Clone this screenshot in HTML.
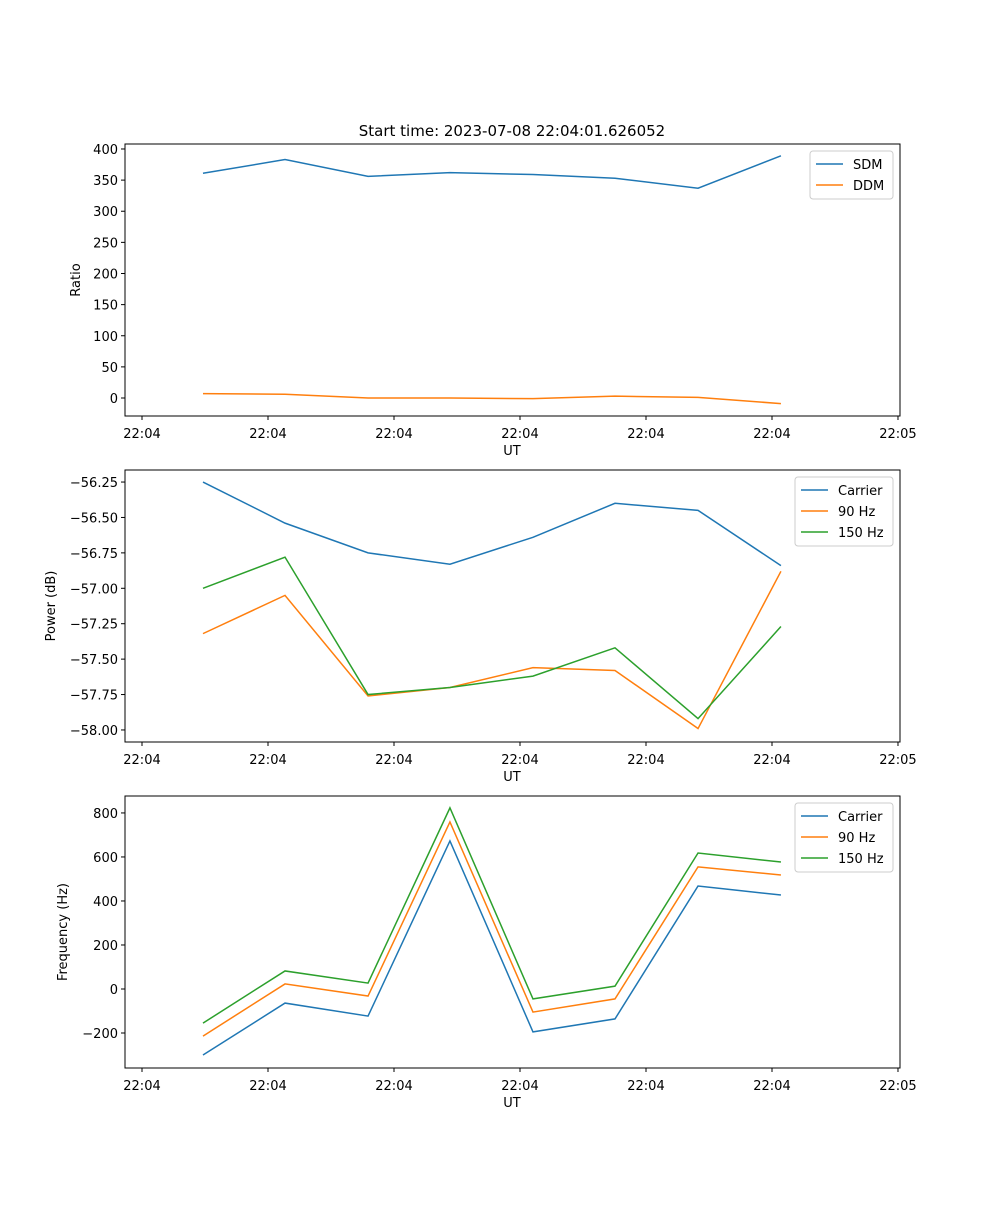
<!DOCTYPE html>
<html><head><meta charset="utf-8"><style>
html,body{margin:0;padding:0;background:#fff;}
svg text{font-family:"DejaVu Sans","Liberation Sans",sans-serif;fill:#000;}
</style></head><body>
<svg id="fig" width="1000" height="1200" xmlns="http://www.w3.org/2000/svg">
<rect width="1000" height="1200" fill="#fff"/>
<text x="512" y="136" font-size="15" text-anchor="middle">Start time: 2023-07-08 22:04:01.626052</text>
</svg>
<script>
const times = [0.484, 1.135, 1.794, 2.444, 3.103, 3.754, 4.413, 5.071];
const xTickVals = [0,1,2,3,4,5,6];
const xTickLabels = ["22:04","22:04","22:04","22:04","22:04","22:04","22:05"];
const sdm = [361,383,356,362,359,353,337,389];
const ddm = [7,6,0,0,-1,3,1,-9];
const pCarrier = [-56.25,-56.54,-56.75,-56.83,-56.64,-56.40,-56.45,-56.84];
const p90 = [-57.32,-57.05,-57.76,-57.70,-57.56,-57.58,-57.99,-56.88];
const p150 = [-57.00,-56.78,-57.75,-57.70,-57.62,-57.42,-57.92,-57.27];
const fCarrier = [-300,-64,-123,673,-195,-136,468,427];
const f90 = [-214,23,-32,759,-105,-45,555,518];
const f150 = [-155,82,27,823,-45,13,618,577];
const ratioTicks = [0,50,100,150,200,250,300,350,400];
const powerTicks = [-58.00,-57.75,-57.50,-57.25,-57.00,-56.75,-56.50,-56.25];
const freqTicks = [-200,0,200,400,600,800];

const NS="http://www.w3.org/2000/svg";
const svg=document.getElementById('fig');
const C={blue:"#1f77b4",orange:"#ff7f0e",green:"#2ca02c"};
function mk(tag,attrs,parent){const e=document.createElementNS(NS,tag);for(const k in attrs)e.setAttribute(k,attrs[k]);(parent||svg).appendChild(e);return e;}
const L=125,R=900;
const xmin=-0.135,xmax=6.016;
function xs(v){return L+(v-xmin)/(xmax-xmin)*(R-L);}

function panel(name,top,bottom,ymin,ymax,ticks,fmt,ylabel,series,legend,ylabX){
  const g=mk('g',{});
  
  
  const ys=v=>bottom-(v-ymin)/(ymax-ymin)*(bottom-top);
  series.forEach(s=>{
    const p=mk('polyline',{points:times.map((t,i)=>xs(t)+','+ys(s.vals[i])).join(' '),fill:'none',stroke:s.color,'stroke-width':1.5},g);
    
    
  });
  const fr=mk('rect',{x:L,y:top,width:R-L,height:bottom-top,fill:'none',stroke:'#000','stroke-width':1},g);
  
  
  xTickVals.forEach((v,i)=>{
    const x=xs(v);
    mk('line',{x1:x,x2:x,y1:bottom,y2:bottom+4,stroke:'#000'},g);
    const t=mk('text',{x:x,y:bottom+22,'font-size':13,'text-anchor':'middle'},g);
    t.textContent=xTickLabels[i];
    
    
  });
  ticks.forEach(v=>{
    const y=ys(v);
    mk('line',{x1:L-4,x2:L,y1:y,y2:y,stroke:'#000'},g);
    const t=mk('text',{x:L-7,y:y+5,'font-size':13,'text-anchor':'end'},g);
    t.textContent=fmt(v);
    
    
  });
  const xl=mk('text',{x:512,y:bottom+39,'font-size':13,'text-anchor':'middle'},g);
  xl.textContent='UT';
  
  
  const yl=mk('text',{x:ylabX,y:(top+bottom)/2,'font-size':13,'text-anchor':'middle',transform:`rotate(-90 ${ylabX} ${(top+bottom)/2})`},g);
  yl.textContent=ylabel;
  
  
  const lg=mk('g',{},g);
  
  
  const lh=series.length*21+6;
  mk('rect',{x:legend.x,y:top+7,width:R-7-legend.x,height:lh,rx:3,fill:'#fff',stroke:'#ccc','stroke-width':1},lg);
  series.forEach((s,i)=>{
    const y=top+7+13+i*21;
    mk('line',{x1:legend.x+6,x2:legend.x+33,y1:y,y2:y,stroke:s.color,'stroke-width':1.5},lg);
    const t=mk('text',{x:legend.x+43,y:y+5,'font-size':13},lg);
    t.textContent=s.label;
    
    
  });
}
panel('ratio-panel',144,416,-28.9,408,ratioTicks,v=>String(v),'Ratio',
  [{name:'sdm-line',label:'SDM',vals:sdm,color:C.blue},{name:'ddm-line',label:'DDM',vals:ddm,color:C.orange}],{x:810},80);
panel('power-panel',470,742,-58.085,-56.165,powerTicks,v=>'\u2212'+Math.abs(v).toFixed(2),'Power (dB)',
  [{name:'power-carrier-line',label:'Carrier',vals:pCarrier,color:C.blue},{name:'power-90hz-line',label:'90 Hz',vals:p90,color:C.orange},{name:'power-150hz-line',label:'150 Hz',vals:p150,color:C.green}],{x:795},55);
panel('frequency-panel',796,1068,-359,877,freqTicks,v=>v<0?'\u2212'+Math.abs(v):String(v),'Frequency (Hz)',
  [{name:'freq-carrier-line',label:'Carrier',vals:fCarrier,color:C.blue},{name:'freq-90hz-line',label:'90 Hz',vals:f90,color:C.orange},{name:'freq-150hz-line',label:'150 Hz',vals:f150,color:C.green}],{x:795},67);
</script>
</body></html>
